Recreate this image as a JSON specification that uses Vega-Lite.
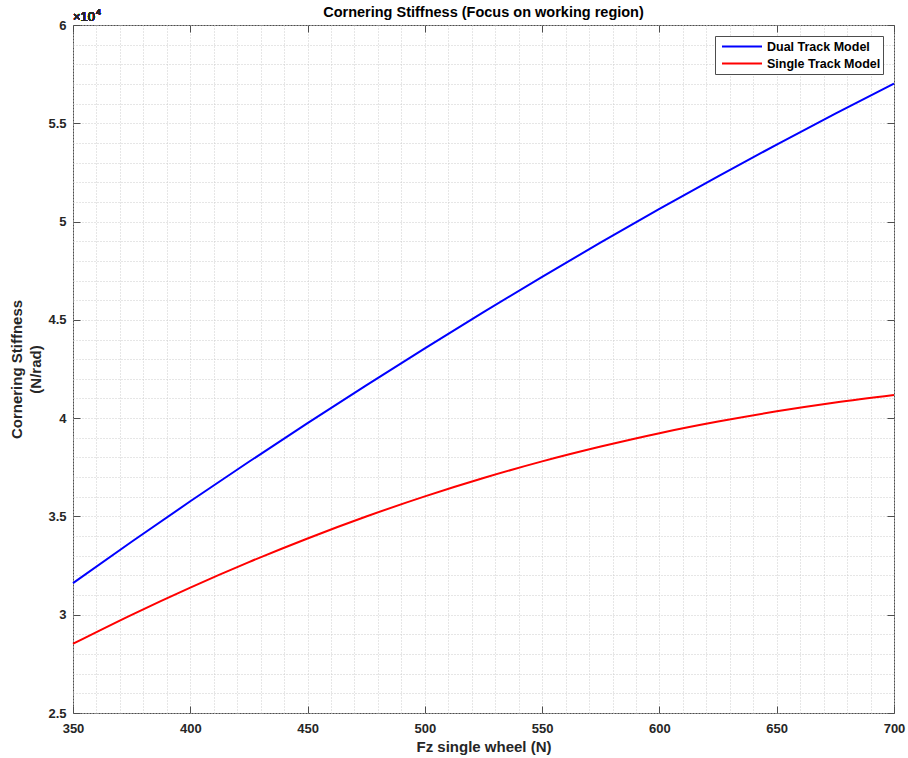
{
  "$schema": "https://vega.github.io/schema/vega-lite/v6.json",
  "width": 821,
  "height": 688,
  "autosize": {"type": "none"},
  "padding": {"left": 73, "top": 25, "right": 14, "bottom": 45},
  "background": "white",
  "config": {
    "font": "Liberation Sans",
    "view": {"stroke": "#4d4d4d", "strokeWidth": 1},
    "axis": {"labelFont": "Liberation Sans", "titleFont": "Liberation Sans", "labelColor": "#262626", "titleColor": "#262626", "labelFontWeight": "bold", "titleFontWeight": "bold", "domain": false}
  },
  "title": {"text": "Cornering Stiffness (Focus on working region)", "fontSize": 14.5, "fontWeight": "bold", "color": "#000000", "anchor": "middle", "offset": -12, "font": "Liberation Sans"},
  "data": {"values": [
    {"Fz": 350, "C": 31610, "model": "Dual Track Model"},
    {"Fz": 375, "C": 33710, "model": "Dual Track Model"},
    {"Fz": 400, "C": 35770, "model": "Dual Track Model"},
    {"Fz": 425, "C": 37780, "model": "Dual Track Model"},
    {"Fz": 450, "C": 39750, "model": "Dual Track Model"},
    {"Fz": 475, "C": 41670, "model": "Dual Track Model"},
    {"Fz": 500, "C": 43550, "model": "Dual Track Model"},
    {"Fz": 525, "C": 45390, "model": "Dual Track Model"},
    {"Fz": 550, "C": 47190, "model": "Dual Track Model"},
    {"Fz": 575, "C": 48940, "model": "Dual Track Model"},
    {"Fz": 600, "C": 50640, "model": "Dual Track Model"},
    {"Fz": 625, "C": 52300, "model": "Dual Track Model"},
    {"Fz": 650, "C": 53920, "model": "Dual Track Model"},
    {"Fz": 675, "C": 55490, "model": "Dual Track Model"},
    {"Fz": 700, "C": 57020, "model": "Dual Track Model"},
    {"Fz": 350, "C": 28520, "model": "Single Track Model"},
    {"Fz": 375, "C": 29995, "model": "Single Track Model"},
    {"Fz": 400, "C": 31380, "model": "Single Track Model"},
    {"Fz": 425, "C": 32675, "model": "Single Track Model"},
    {"Fz": 450, "C": 33880, "model": "Single Track Model"},
    {"Fz": 475, "C": 34995, "model": "Single Track Model"},
    {"Fz": 500, "C": 36020, "model": "Single Track Model"},
    {"Fz": 525, "C": 36955, "model": "Single Track Model"},
    {"Fz": 550, "C": 37800, "model": "Single Track Model"},
    {"Fz": 575, "C": 38555, "model": "Single Track Model"},
    {"Fz": 600, "C": 39235, "model": "Single Track Model"},
    {"Fz": 625, "C": 39825, "model": "Single Track Model"},
    {"Fz": 650, "C": 40345, "model": "Single Track Model"},
    {"Fz": 675, "C": 40795, "model": "Single Track Model"},
    {"Fz": 700, "C": 41175, "model": "Single Track Model"}
  ]},
  "resolve": {"axis": {"x": "independent", "y": "independent"}},
  "layer": [
    {
      "mark": {"type": "line", "opacity": 0},
      "encoding": {
        "x": {"field": "Fz", "type": "quantitative", "scale": {"domain": [350, 700], "nice": false, "zero": false},
          "axis": {"orient": "bottom", "values": [350,360,370,380,390,400,410,420,430,440,450,460,470,480,490,500,510,520,530,540,550,560,570,580,590,600,610,620,630,640,650,660,670,680,690,700], "grid": true, "gridColor": "#cccccc", "gridDash": [1, 2], "gridWidth": 1, "labels": false, "ticks": false, "title": null}},
        "y": {"field": "C", "type": "quantitative", "scale": {"domain": [25000, 60000], "nice": false, "zero": false},
          "axis": {"orient": "left", "values": [25000,26000,27000,28000,29000,30000,31000,32000,33000,34000,35000,36000,37000,38000,39000,40000,41000,42000,43000,44000,45000,46000,47000,48000,49000,50000,51000,52000,53000,54000,55000,56000,57000,58000,59000,60000], "grid": true, "gridColor": "#cccccc", "gridDash": [1, 2], "gridWidth": 1, "labels": false, "ticks": false, "title": null}},
        "detail": {"field": "model"}
      }
    },
    {
      "mark": {"type": "line", "strokeWidth": 2, "interpolate": "monotone"},
      "encoding": {
        "x": {"field": "Fz", "type": "quantitative",
          "axis": {"orient": "bottom", "offset": -7, "values": [350,400,450,500,550,600,650,700], "grid": false, "tickSize": 7, "tickWidth": 1, "tickColor": "#4d4d4d", "labelFontSize": 13, "labelPadding": 9, "labelFlush": false, "labelOverlap": false, "title": "Fz single wheel (N)", "titleFontSize": 15, "titlePadding": 4}},
        "y": {"field": "C", "type": "quantitative",
          "axis": {"orient": "left", "offset": -7, "values": [25000,30000,35000,40000,45000,50000,55000,60000], "labelExpr": "format(datum.value/10000, '~g')", "grid": false, "tickSize": 7, "tickWidth": 1, "tickColor": "#4d4d4d", "labelFontSize": 13, "labelPadding": 7, "labelFlush": false, "labelOverlap": false, "title": ["Cornering Stiffness", "(N/rad)"], "titleFontSize": 15, "titleLineHeight": 19, "titlePadding": 4}},
        "color": {"field": "model", "type": "nominal", "scale": {"domain": ["Dual Track Model", "Single Track Model"], "range": ["#0000ff", "#ff0000"]},
          "legend": {"title": null, "orient": "top-right", "offset": 11, "symbolType": "stroke", "symbolSize": 1600, "symbolStrokeWidth": 2, "symbolOffset": 4, "clipHeight": 17, "rowPadding": 0, "labelOffset": 4, "labelFontSize": 12.5, "labelFontWeight": "bold", "labelFont": "Liberation Sans", "labelColor": "#000000", "strokeColor": "#4d4d4d", "fillColor": "white", "padding": 2}}
      }
    },
    {
      "mark": {"type": "line", "opacity": 0},
      "encoding": {
        "x": {"field": "Fz", "type": "quantitative",
          "axis": {"orient": "top", "offset": -7, "values": [350,400,450,500,550,600,650,700], "grid": false, "tickSize": 7, "tickWidth": 1, "tickColor": "#4d4d4d", "labels": false, "title": null}},
        "y": {"field": "C", "type": "quantitative",
          "axis": {"orient": "right", "offset": -7, "values": [25000,30000,35000,40000,45000,50000,55000,60000], "grid": false, "tickSize": 7, "tickWidth": 1, "tickColor": "#4d4d4d", "labels": false, "title": null}},
        "detail": {"field": "model"}
      }
    },
    {
      "mark": {"type": "text", "text": "×10", "align": "left", "baseline": "bottom", "dy": -1, "fontSize": 13, "color": "#262626", "font": "Liberation Sans"},
      "encoding": {
        "x": {"datum": 350, "type": "quantitative", "axis": null},
        "y": {"datum": 60000, "type": "quantitative", "axis": null}
      }
    },
    {
      "mark": {"type": "text", "text": "4", "align": "left", "baseline": "bottom", "dx": 23, "dy": -8, "fontSize": 9, "color": "#262626", "font": "Liberation Sans"},
      "encoding": {
        "x": {"datum": 350, "type": "quantitative", "axis": null},
        "y": {"datum": 60000, "type": "quantitative", "axis": null}
      }
    }
  ]
}
